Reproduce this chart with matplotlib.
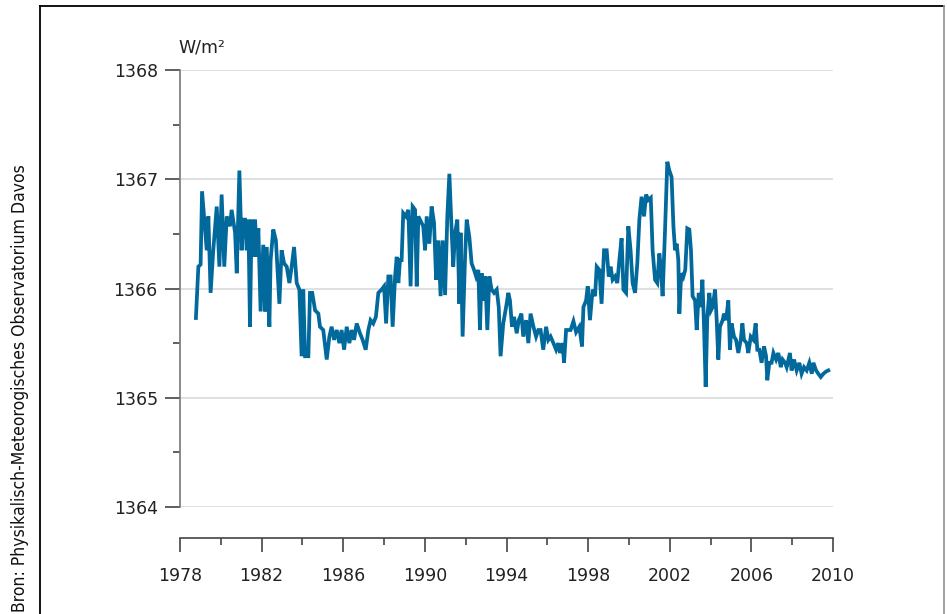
import numpy as np
import matplotlib.pyplot as plt
from matplotlib.lines import Line2D
from matplotlib.ticker import MultipleLocator

# zonnecyclus 21 (1978 - 1989)
years_c21 = [1978.78, 1978.90, 1979.01, 1979.08, 1979.18, 1979.31, 1979.39, 1979.50, 1979.63, 1979.80,
             1979.93, 1980.04, 1980.17, 1980.29, 1980.45, 1980.53, 1980.70, 1980.78, 1980.91, 1981.02,
             1981.10, 1981.19, 1981.27, 1981.35, 1981.43, 1981.51, 1981.59, 1981.68, 1981.76, 1981.84,
             1981.95, 1982.08, 1982.17, 1982.25, 1982.38, 1982.44, 1982.57, 1982.70, 1982.77, 1982.87,
             1982.98, 1983.10, 1983.23, 1983.36, 1983.47, 1983.59, 1983.72, 1983.85, 1983.96, 1984.04,
             1984.13, 1984.29, 1984.37, 1984.48, 1984.62, 1984.78, 1984.86, 1985.02, 1985.19, 1985.32,
             1985.43, 1985.55, 1985.68, 1985.81, 1985.92, 1986.04, 1986.17, 1986.30, 1986.41, 1986.53,
             1986.66, 1986.82, 1986.95, 1987.10, 1987.23, 1987.34, 1987.47, 1987.60, 1987.72, 1987.88,
             1988.00, 1988.10, 1988.21, 1988.32, 1988.42, 1988.54, 1988.62, 1988.70, 1988.78, 1988.86,
             1988.94, 1989.07, 1989.19, 1989.30, 1989.40, 1989.52, 1989.60, 1989.68]
tsi_c21 = [1365.73, 1366.20, 1366.22, 1366.89, 1366.66, 1366.35, 1366.66, 1365.96, 1366.35, 1366.75,
           1366.20, 1366.86, 1366.20, 1366.66, 1366.57, 1366.72, 1366.51, 1366.14, 1367.08, 1366.35,
           1366.63, 1366.63, 1366.35, 1366.63, 1365.65, 1366.63, 1366.29, 1366.63, 1366.29, 1366.55,
           1365.79, 1366.40, 1365.79, 1366.38, 1365.65, 1366.26, 1366.54, 1366.44, 1366.20, 1365.86,
           1366.35, 1366.23, 1366.20, 1366.05, 1366.20, 1366.38, 1366.05, 1365.99, 1365.38, 1365.99,
           1365.38, 1365.38, 1365.96, 1365.96, 1365.80, 1365.77, 1365.65, 1365.62, 1365.35, 1365.56,
           1365.65, 1365.53, 1365.62, 1365.50, 1365.62, 1365.44, 1365.65, 1365.50, 1365.62, 1365.53,
           1365.68, 1365.59, 1365.53, 1365.44, 1365.62, 1365.71, 1365.68, 1365.74, 1365.96, 1365.99,
           1366.02, 1365.68, 1366.11, 1366.11, 1365.65, 1366.11, 1366.29, 1366.05, 1366.26, 1366.26,
           1366.69, 1366.66, 1366.72, 1366.02, 1366.75, 1366.72, 1366.02, 1366.66]

# zonnecyclus 22 (1989 - 2001)
years_c22 = [1989.92, 1990.01, 1990.09, 1990.22, 1990.33, 1990.45, 1990.55, 1990.66, 1990.77, 1990.87,
             1990.99, 1991.10, 1991.20, 1991.31, 1991.39, 1991.48, 1991.59, 1991.69, 1991.75, 1991.85,
             1991.97, 1992.05, 1992.18, 1992.29, 1992.41, 1992.51, 1992.62, 1992.70, 1992.78, 1992.90,
             1992.96, 1993.06, 1993.16, 1993.27, 1993.39, 1993.52, 1993.62, 1993.71, 1993.84, 1993.98,
             1994.09, 1994.17, 1994.27, 1994.37, 1994.50, 1994.60, 1994.73, 1994.82, 1994.96, 1995.07,
             1995.18, 1995.32, 1995.45, 1995.56, 1995.67, 1995.80, 1995.94, 1996.05, 1996.16, 1996.30,
             1996.43, 1996.54, 1996.62, 1996.75, 1996.82, 1996.92, 1997.03, 1997.14, 1997.28, 1997.41,
             1997.57, 1997.70, 1997.77, 1997.90, 1997.98, 1998.09, 1998.22, 1998.34, 1998.42, 1998.55,
             1998.66, 1998.78, 1998.91, 1999.01, 1999.10, 1999.20, 1999.32, 1999.43, 1999.53, 1999.64,
             1999.73, 1999.86, 1999.97, 2000.08, 2000.18, 2000.30, 2000.41, 2000.51, 2000.62, 2000.74,
             2000.84, 2000.95, 2001.07, 2001.16, 2001.28, 2001.39, 2001.49, 2001.56, 2001.65, 2001.77]
tsi_c22 = [1366.57, 1366.35, 1366.66, 1366.41, 1366.75, 1366.60, 1366.08, 1366.44, 1365.93, 1366.44,
           1365.94, 1366.66, 1367.05, 1366.54, 1366.20, 1366.51, 1366.63, 1365.86, 1366.51, 1365.56,
           1366.29, 1366.63, 1366.47, 1366.23, 1366.17, 1366.11, 1366.17, 1365.62, 1366.14, 1365.89,
           1366.11, 1365.62, 1366.11, 1365.99, 1365.96, 1365.99, 1365.83, 1365.38, 1365.68, 1365.83,
           1365.96, 1365.89, 1365.65, 1365.74, 1365.59, 1365.71, 1365.77, 1365.56, 1365.71, 1365.50,
           1365.77, 1365.65, 1365.56, 1365.62, 1365.62, 1365.44, 1365.65, 1365.53, 1365.56, 1365.50,
           1365.44, 1365.50, 1365.41, 1365.50, 1365.32, 1365.62, 1365.62, 1365.62, 1365.70, 1365.60,
           1365.65, 1365.47, 1365.83, 1365.89, 1366.02, 1365.71, 1365.99, 1365.93, 1366.20, 1366.17,
           1365.86, 1366.35, 1366.35, 1366.11, 1366.20, 1366.08, 1366.11, 1366.05, 1366.26, 1366.46,
           1365.99, 1365.96, 1366.57, 1366.35, 1366.05, 1365.96, 1366.23, 1366.63, 1366.84, 1366.66,
           1366.86, 1366.81, 1366.83, 1366.35, 1366.08, 1366.05, 1366.32, 1366.20, 1365.93, 1366.54]

# zonnecyclus 23 (2001 - 2009)
years_c23 = [2001.88, 2001.98, 2002.09, 2002.18, 2002.26, 2002.34, 2002.42, 2002.47, 2002.54, 2002.60,
             2002.67, 2002.76, 2002.86, 2002.96, 2003.04, 2003.12, 2003.24, 2003.32, 2003.42, 2003.52,
             2003.60, 2003.68, 2003.76, 2003.84, 2003.94, 2004.02, 2004.10, 2004.22, 2004.30, 2004.38,
             2004.46, 2004.59, 2004.66, 2004.76, 2004.87, 2004.95, 2005.03, 2005.15, 2005.25, 2005.36,
             2005.48, 2005.56, 2005.64, 2005.77, 2005.85, 2005.97, 2006.10, 2006.21, 2006.29, 2006.39,
             2006.50, 2006.62, 2006.72, 2006.78, 2006.88, 2006.99, 2007.08, 2007.21, 2007.32, 2007.44,
             2007.53, 2007.65, 2007.73, 2007.89, 2007.97, 2008.09, 2008.22, 2008.35, 2008.46, 2008.58,
             2008.71, 2008.84, 2008.96, 2009.04, 2009.17, 2009.28, 2009.40, 2009.53, 2009.66, 2009.77]
tsi_c23 = [1367.16, 1367.08, 1367.02, 1366.57, 1366.35, 1366.41, 1366.26, 1365.77, 1366.05, 1366.14,
           1366.11, 1366.17, 1366.55, 1366.54, 1366.35, 1365.93, 1365.89, 1365.62, 1365.96, 1365.83,
           1366.08, 1365.65, 1365.10, 1365.74, 1365.96, 1365.80, 1365.83, 1365.99, 1365.71, 1365.35,
           1365.65, 1365.71, 1365.77, 1365.71, 1365.89, 1365.44, 1365.68, 1365.56, 1365.53, 1365.41,
           1365.53, 1365.68, 1365.53, 1365.50, 1365.41, 1365.56, 1365.53, 1365.68, 1365.44, 1365.44,
           1365.32, 1365.47, 1365.38, 1365.16, 1365.32, 1365.32, 1365.41, 1365.35, 1365.41, 1365.28,
           1365.35, 1365.32, 1365.28, 1365.41, 1365.25, 1365.35, 1365.25, 1365.32, 1365.22, 1365.28,
           1365.25, 1365.32, 1365.22, 1365.32, 1365.25, 1365.22, 1365.19, 1365.22, 1365.24, 1365.25]

year_ticks = list(range(1978, 2011, 4))
tsi_ticks = [1364, 1365, 1366, 1367, 1368]
unit_label = 'W/m²'
source_label = 'Bron: Physikalisch-Meteorogisches Observatorium Davos'

years = np.array(years_c21 + years_c22 + years_c23)
tsi = np.array(tsi_c21 + tsi_c22 + tsi_c23)

W, H = 947, 614
fig = plt.figure(figsize=(W / 100, H / 100), dpi=100)
ax = fig.add_axes([180 / W, 1 - 507 / H, 653 / W, 437 / H])

ax.plot(years, tsi, color='#02699c', lw=2.7, solid_joinstyle='miter')

ax.set_xlim(1978, 2010)
ax.set_ylim(1364, 1368)
ax.set_xticks(year_ticks)
ax.xaxis.set_minor_locator(MultipleLocator(2))
ax.set_yticks(tsi_ticks)
ax.yaxis.set_minor_locator(MultipleLocator(0.5))
ax.grid(axis='y', which='major', color='#dddddd', lw=1.3)
ax.set_axisbelow(True)

for s in ['top', 'right']:
    ax.spines[s].set_visible(False)
ax.spines['left'].set_color('#777777')
ax.spines['left'].set_linewidth(1.2)
ax.spines['bottom'].set_position(('outward', 22))
ax.spines['bottom'].set_color('#444444')
ax.spines['bottom'].set_linewidth(1.2)

ax.tick_params(axis='y', which='major', length=11, width=1.2, color='#444444', pad=5,
               labelsize=12.5, labelcolor='#222222')
ax.tick_params(axis='y', which='minor', length=5, width=1.2, color='#444444')
ax.tick_params(axis='x', which='major', length=10, width=1.2, color='#444444', pad=11,
               labelsize=12.5, labelcolor='#222222')
ax.tick_params(axis='x', which='minor', length=5, width=1.2, color='#444444')

fig.text(178 / W, 1 - 47 / H, unit_label, fontsize=12.5, color='#222222', va='center', ha='left')

# kader om de figuur
fig.add_artist(Line2D([39.5 / W, 39.5 / W], [0, 1 - 6 / H], transform=fig.transFigure, color='black', lw=1.3))
fig.add_artist(Line2D([39.5 / W, 944 / W], [1 - 6 / H, 1 - 6 / H], transform=fig.transFigure, color='black', lw=1.3))
fig.add_artist(Line2D([944 / W, 944 / W], [0, 1 - 6 / H], transform=fig.transFigure, color='#999999', lw=1.3))

fig.text(20 / W, 2 / H, source_label, rotation=90, fontsize=12.6, fontstretch='condensed',
         color='#111111', ha='center', va='bottom')

fig.savefig('out.png', dpi=100)
